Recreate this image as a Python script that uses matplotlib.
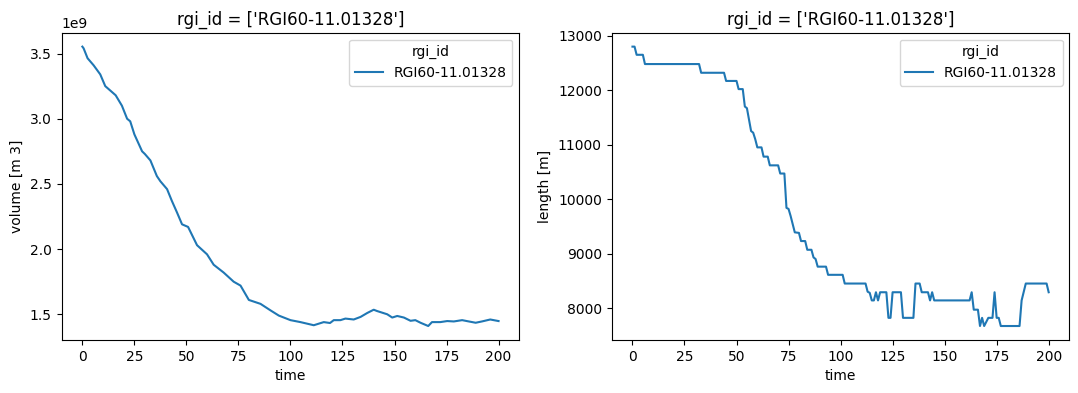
import matplotlib
matplotlib.use('Agg')

from matplotlib import pyplot as plt
import numpy as np

rgi_id = 'RGI60-11.01328'

# Volume (m3, x1e9)
vol_time = [0, 0.6, 2.5, 5.4, 8.6, 11, 16, 19, 21.5, 23, 25, 28.7, 30, 32.7, 35.8, 37.5,
            40.7, 43, 45.5, 47.9, 50.8, 55.1, 59.9, 63.1, 67.9, 72.7, 76, 80, 85.6, 90.4,
            94.4, 100, 104.8, 111.2, 116, 119, 120.8, 124, 126.4, 130.4, 133.7, 136.9,
            140, 141.6, 146.5, 148.9, 151.3, 154.5, 157.7, 160, 162.5, 166.2, 168, 172,
            175.3, 178.5, 182.5, 185.7, 189, 192, 196, 200]
vol_value = [3.553, 3.54, 3.464, 3.41, 3.34, 3.25, 3.18, 3.10, 3.0, 2.98, 2.88, 2.75, 2.73,
             2.68, 2.56, 2.52, 2.46, 2.37, 2.28, 2.19, 2.17, 2.03, 1.96, 1.88, 1.82, 1.75,
             1.72, 1.61, 1.58, 1.53, 1.49, 1.455, 1.44, 1.416, 1.44, 1.433, 1.455, 1.455,
             1.467, 1.46, 1.48, 1.51, 1.535, 1.525, 1.50, 1.475, 1.487, 1.475, 1.45, 1.455,
             1.435, 1.41, 1.44, 1.44, 1.448, 1.445, 1.455, 1.445, 1.435, 1.445, 1.46, 1.448]

# Length (m)
len_time = [0, 1, 2, 5, 6, 32, 33, 44, 45, 50, 51, 53, 54, 55, 57, 58, 59, 60, 62, 63, 65,
            66, 70, 71, 73, 74, 75, 76, 78, 80, 81, 83, 84, 86, 87, 88, 89, 93, 94, 101,
            102, 112, 113, 114, 115, 116, 117, 118, 119, 122, 123, 124, 125, 129, 130, 135,
            136, 138, 139, 142, 143, 144, 145, 162, 163, 164, 166, 167, 168, 169, 171, 173,
            174, 175, 176, 177, 186, 187, 189, 199, 200]
len_value = [12800, 12800, 12650, 12650, 12480, 12480, 12320, 12320, 12170, 12170, 12020,
             12020, 11700, 11670, 11250, 11220, 11100, 10950, 10950, 10780, 10780, 10620,
             10620, 10470, 10470, 9840, 9820, 9690, 9390, 9380, 9230, 9230, 9070, 9070, 8930,
             8900, 8760, 8760, 8610, 8610, 8450, 8450, 8300, 8280, 8140, 8140, 8290, 8140,
             8290, 8290, 7820, 7820, 8290, 8290, 7820, 7820, 8450, 8450, 8290, 8290, 8140,
             8290, 8140, 8140, 8290, 7970, 7970, 7670, 7820, 7670, 7820, 7820, 8290, 7820,
             7820, 7670, 7670, 8140, 8450, 8450, 8290]

fig = plt.figure(figsize=(10.78, 3.93), dpi=100)
ax1 = fig.add_axes([0.0571, 0.1349, 0.4247, 0.782])
ax2 = fig.add_axes([0.5674, 0.1349, 0.4247, 0.782])

ax1.plot(vol_time, np.array(vol_value) * 1e9, label=rgi_id)
ax1.set_ylabel('volume [m 3]')

ax2.plot(len_time, len_value, label=rgi_id)
ax2.set_ylabel('length [m]')

for ax in (ax1, ax2):
    ax.set_xlabel('time')
    ax.set_title(f"rgi_id = ['{rgi_id}']")
    ax.legend(title='rgi_id', loc='upper right')

fig.savefig('out.png', dpi=100)
